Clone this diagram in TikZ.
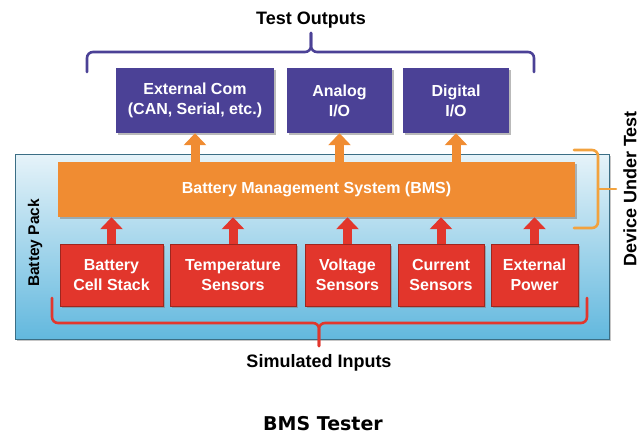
\documentclass[tikz,border=0pt]{standalone}
\usepackage{fontspec}
\setmainfont{Liberation Sans}
\newfontfamily\captionfont{DejaVu Sans}
\usepackage{tikz}
\usetikzlibrary{arrows.meta,shadows}
\definecolor{outpurple}{HTML}{4B4196}
\definecolor{bmsorange}{HTML}{F08C32}
\definecolor{dutorange}{HTML}{F2A23E}
\definecolor{inred}{HTML}{E2362C}
\definecolor{packtop}{HTML}{E6F3F9}
\definecolor{packmid}{HTML}{9CD2EA}
\definecolor{packbot}{HTML}{62B8DE}
\newcommand{\lbltext}[1]{\fontsize{#1}{#1}\selectfont\bfseries}

\begin{document}
\begin{tikzpicture}[
  x=1pt, y=-1pt,
  box/.style={align=center, text=white, inner sep=2pt,
    font=\fontsize{16}{20}\selectfont\bfseries,
    drop shadow={shadow xshift=1.6pt, shadow yshift=-1.6pt, opacity=.55}},
  outbox/.style={box, fill=outpurple, minimum height=65pt},
  inbox/.style={box, fill=inred, draw=inred!70!black, minimum height=62pt},
  bms/.style={box, fill=bmsorange, minimum width=517pt, minimum height=55pt},
  pack/.style={top color=packtop, middle color=packmid, bottom color=packbot,
    draw=packbot!60!black, line width=.4pt,
    minimum width=594pt, minimum height=185pt,
    drop shadow={shadow xshift=1.5pt, shadow yshift=-2pt, opacity=.45}},
  title/.style={font=\lbltext{18}, text=black, inner sep=0pt},
  brace/.style={line width=2.6pt, rounded corners=6pt, line cap=round},
  oarr/.style={-{Triangle[length=12pt, width=22pt]}, line width=9pt, bmsorange},
  rarr/.style={-{Triangle[length=12pt, width=22pt]}, line width=9pt, inred},
]
\useasboundingbox (0,0) rectangle (639,437);

% battery pack background
\node[pack] (pack) at (312,246.5) {};
\node[title, font=\lbltext{15.5}, rotate=90] (packlbl) at (35,243) {Battey Pack};

% test outputs
\node[title] (outlbl) at (311,20) {Test Outputs};
\node[outbox, minimum width=158pt] (extcom)  at (195,100.5)   {External Com\\(CAN, Serial, etc.)};
\node[outbox, minimum width=105pt] (analog)  at (339.5,100.5) {Analog\\I/O};
\node[outbox, minimum width=106pt] (digital) at (456,100.5)   {Digital\\I/O};
\draw[brace, outpurple] (87,72) -- (87,52) -- (311,52) -- (311,33);
\draw[brace, outpurple] (311,33) -- (311,52) -- (534,52) -- (534,72);

% device under test
\node[bms] (bmsbox) at (316.5,189.5) {Battery Management System (BMS)};
\draw[brace, dutorange] (574,150) -- (598,150) -- (598,228) -- (574,228);
\draw[brace, dutorange, rounded corners=0pt] (598,189) -- (616,189);
\node[title, rotate=90] (dutlbl) at (630,189) {Device Under Test};

% simulated inputs
\node[inbox, minimum width=103pt] (cell)   at (111.5,275) {Battery\\Cell Stack};
\node[inbox, minimum width=126pt] (temp)   at (233,275)   {Temperature\\Sensors};
\node[inbox, minimum width=85pt]  (volt)   at (347.5,275) {Voltage\\Sensors};
\node[inbox, minimum width=86pt]  (curr)   at (441,275)   {Current\\Sensors};
\node[inbox, minimum width=87pt]  (extpow) at (534.5,275) {External\\Power};
\draw[brace, inred] (52,298) -- (52,323) -- (319,323) -- (319,346);
\draw[brace, inred] (319,346) -- (319,323) -- (587,323) -- (587,298);
\node[title] (inlbl) at (319,363) {Simulated Inputs};

% arrows
\foreach \b in {extcom,analog,digital}
  \draw[oarr] (bmsbox.north -| \b.south) -- (\b.south);
\foreach \b in {cell,temp,volt,curr,extpow}
  \draw[rarr] (\b.north) -- (bmsbox.south -| \b.north);

\node[title, font=\captionfont\fontsize{19}{19}\selectfont\bfseries] (caption) at (323,424) {BMS Tester};
\end{tikzpicture}
\end{document}
